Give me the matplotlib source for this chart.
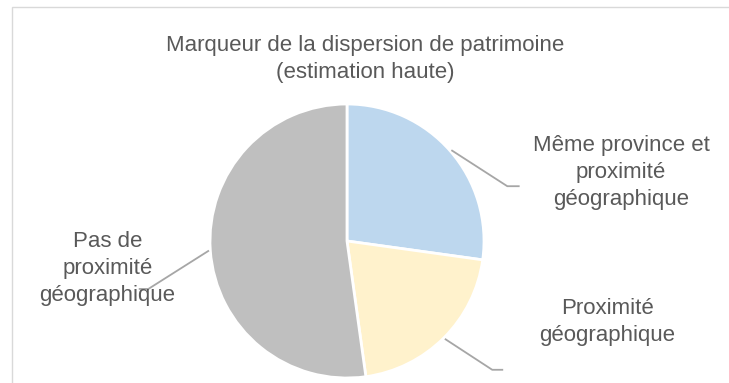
import numpy as np
import matplotlib.pyplot as plt
from matplotlib.patches import Rectangle

plt.rcParams['font.family'] = ['Liberation Sans', 'DejaVu Sans']

labels = ['Même province et\nproximité\ngéographique',
          'Proximité\ngéographique',
          'Pas de\nproximité\ngéographique']
shares = [27.2, 20.6, 52.2]
colors = ['#BDD7EE', '#FFF2CC', '#BFBFBF']

# label centres and leader elbows, in pie radius units
label_pos = [(2.00, 0.50), (1.90, -0.59), (-1.75, -0.20)]
elbows = [(1.17, 0.40), (1.06, -0.94), (-1.45, -0.35)]
ends = [(1.26, 0.40), (1.14, -0.94), (-1.52, -0.35)]

W, H = 729, 383
fig = plt.figure(figsize=(W / 100, H / 100), dpi=100)

# chart frame
fig.patches.append(Rectangle((12 / W, -0.1), 1.2, (H - 7) / H + 0.1,
                             transform=fig.transFigure, fill=False,
                             edgecolor='#D9D9D9', linewidth=1.0))

cx, cy, r = 347, 241, 137
ax = fig.add_axes([(cx - r) / W, (H - cy - r) / H, 2 * r / W, 2 * r / H])
wedges, _ = ax.pie(shares, colors=colors, startangle=90, counterclock=False,
                   radius=1.0, wedgeprops=dict(edgecolor='white', linewidth=2))
ax.set_xlim(-1, 1)
ax.set_ylim(-1, 1)
ax.set_aspect('equal')
ax.axis('off')

for w, lab, lp, el, en in zip(wedges, labels, label_pos, elbows, ends):
    mid = np.deg2rad((w.theta1 + w.theta2) / 2)
    x0, y0 = 1.01 * np.cos(mid), 1.01 * np.sin(mid)
    ax.plot([x0, el[0], en[0]], [y0, el[1], en[1]], color='#A6A6A6',
            linewidth=1.3, clip_on=False, solid_capstyle='butt')
    ax.text(lp[0], lp[1], lab, ha='center', va='center', fontsize=16,
            color='#595959', linespacing=1.38, clip_on=False)

fig.text(365 / W, 1 - 59 / H,
         'Marqueur de la dispersion de patrimoine\n(estimation haute)',
         ha='center', va='center', fontsize=16, color='#595959',
         linespacing=1.38)

fig.savefig('out.png', dpi=100)
